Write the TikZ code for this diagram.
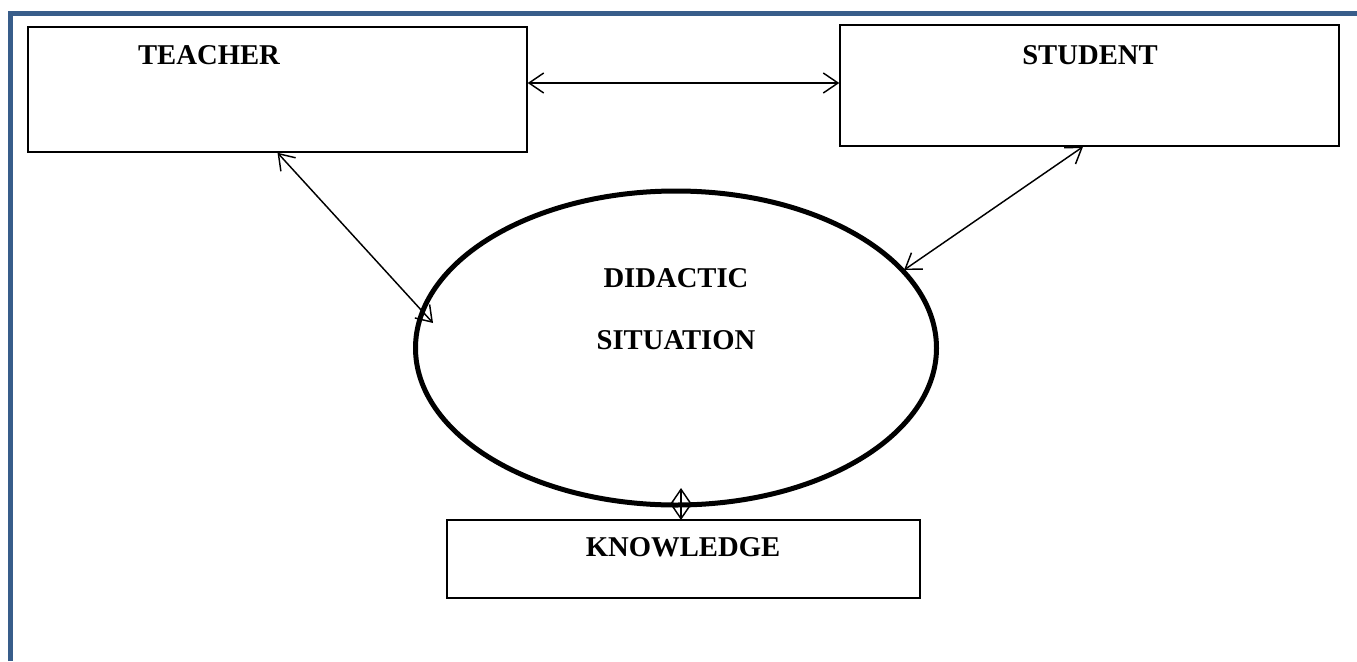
\documentclass[tikz,border=0pt]{standalone}
\usepackage{fontspec}
\setmainfont{Liberation Serif}
\usetikzlibrary{arrows.meta,shapes.geometric}
\definecolor{frameblue}{RGB}{56,93,138}
\begin{document}
\begin{tikzpicture}[x=0.75pt,y=-0.75pt,
  box/.style={draw,line width=1.1pt,inner sep=0pt},
  barb/.tip={Straight Barb[length=11pt,width=15pt,line width=1.1pt]},
  link/.style={line width=1.1pt,barb-barb},
  lbl/.style={font=\fontsize{21.5}{25}\selectfont\bfseries,inner sep=0pt}]
\useasboundingbox (0,0) rectangle (1357,661);
% page frame
\draw[frameblue,line width=3.75pt] (10.5,661) -- (10.5,13.5) -- (1357,13.5);
% boxes
\node[box,minimum width=374.25pt,minimum height=93.75pt] (teacher) at (277.5,89.5) {};
\node[box,minimum width=374.25pt,minimum height=90.75pt] (student) at (1089.5,85.5) {};
\node[box,minimum width=354.75pt,minimum height=58.5pt] (knowledge) at (683.5,559) {};
\node[draw,ellipse,line width=3.75pt,minimum width=390.75pt,minimum height=235.5pt] (situation) at (676,348) {};
% labels
\node[lbl] (tTeacher) at (209,55) {TEACHER};
\node[lbl] (tStudent) at (1090,55) {STUDENT};
\node[lbl] (tKnow) at (683,547) {KNOWLEDGE};
\node[lbl] (tDid) at (676,278) {DIDACTIC};
\node[lbl] (tSit) at (676,340) {SITUATION};
% connectors
\coordinate (tIn) at (433,323);
\coordinate (sIn) at (904,270);
\coordinate (kTop) at (681,520);
\coordinate (eBot) at (681,488);
\draw[link] (teacher.east |- 0,83) -- (student.west |- 0,83);
\draw[link] (teacher.south) -- (tIn);
\draw[link] (student.south -| 1083,0) -- (sIn);
\draw[link] (eBot) -- (kTop);
\end{tikzpicture}
\end{document}
